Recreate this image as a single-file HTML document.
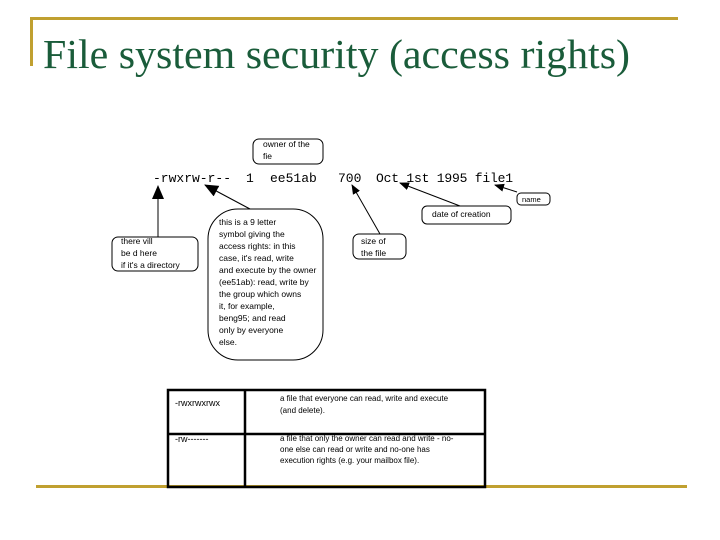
<!DOCTYPE html>
<html><head><meta charset="utf-8"><style>
html,body{margin:0;padding:0;background:#fff;}
body{width:720px;height:540px;overflow:hidden;position:relative;}
</style></head><body>
<svg width="720" height="540" xmlns="http://www.w3.org/2000/svg" style="position:absolute;left:0;top:0">
<defs><marker id="a" markerWidth="10" markerHeight="10" refX="9" refY="5" orient="auto" markerUnits="userSpaceOnUse"><path d="M0,1 L10,5 L0,9 Z" fill="#000"/></marker>
<marker id="b" markerWidth="14" markerHeight="14" refX="13" refY="7" orient="auto" markerUnits="userSpaceOnUse"><path d="M0,1 L14,7 L0,13 Z" fill="#000"/></marker></defs>
<rect x="30" y="17" width="648" height="3" fill="#c0a030"/>
<rect x="30" y="17" width="3" height="49" fill="#c0a030"/>
<rect x="36" y="485" width="651" height="3" fill="#c0a030"/>
<text x="43" y="68" font-family="Liberation Serif, serif" font-size="41" fill="#1a5c3a" textLength="587" lengthAdjust="spacingAndGlyphs">File system security (access rights)</text>
<g font-family="Liberation Mono, monospace" font-size="13" fill="#000">
<text x="153" y="182">-rwxrw-r--</text><text x="246" y="182">1</text><text x="270" y="182">ee51ab</text><text x="338" y="182">700</text><text x="376" y="182" textLength="137">Oct 1st 1995 file1</text></g>
<g fill="none" stroke="#000" stroke-width="1">
<rect x="253" y="139" width="70" height="25" rx="6"/>
<rect x="112" y="237" width="86" height="34" rx="6"/>
<rect x="208" y="209" width="115" height="151" rx="30"/>
<rect x="353" y="234" width="53" height="25" rx="6"/>
<rect x="422" y="206" width="89" height="18" rx="5"/>
<rect x="517" y="193" width="33" height="12" rx="4"/>
<line x1="158" y1="237" x2="158" y2="186" marker-end="url(#b)"/>
<line x1="250" y1="209" x2="205" y2="185" marker-end="url(#b)"/>
<line x1="380" y1="234" x2="352" y2="185" marker-end="url(#a)"/>
<line x1="460" y1="206" x2="400" y2="183" marker-end="url(#a)"/>
<line x1="517" y1="192" x2="495" y2="185" marker-end="url(#a)"/>
</g>
<g font-family="Liberation Sans, sans-serif" font-size="8.5" fill="#000">
<text x="263" y="147">owner of the</text><text x="263" y="159">fie</text>
<text x="121" y="244">there vill</text><text x="121" y="256">be d here</text><text x="121" y="268">if it's a directory</text>
<text x="219" y="225">this is a 9 letter</text><text x="219" y="237">symbol giving the</text><text x="219" y="249">access rights: in this</text><text x="219" y="261">case, it's read, write</text><text x="219" y="273">and execute by the owner</text><text x="219" y="285">(ee51ab): read, write by</text><text x="219" y="297">the group which owns</text><text x="219" y="309">it, for example,</text><text x="219" y="321">beng95; and read</text><text x="219" y="333">only by everyone</text><text x="219" y="345">else.</text>
<text x="361" y="244">size of</text><text x="361" y="256">the file</text>
<text x="432" y="217">date of creation</text>
<text x="522" y="202" font-size="7.5">name</text>
</g>
<g fill="none" stroke="#000" stroke-width="2.5">
<rect x="168" y="390" width="317" height="97"/>
<line x1="245" y1="390" x2="245" y2="487"/>
<line x1="168" y1="434" x2="485" y2="434"/>
</g>
<g font-family="Liberation Sans, sans-serif" font-size="8" fill="#000">
<text x="175" y="406" font-size="9">-rwxrwxrwx</text>
<text x="280" y="401">a file that everyone can read, write and execute</text><text x="280" y="413">(and delete).</text>
<text x="175" y="442" font-size="9">-rw-------</text>
<text x="280" y="441">a file that only the owner can read and write - no-</text><text x="280" y="452">one else can read or write and no-one has</text><text x="280" y="463">execution rights (e.g. your mailbox file).</text>
</g>
</svg>
</body></html>
